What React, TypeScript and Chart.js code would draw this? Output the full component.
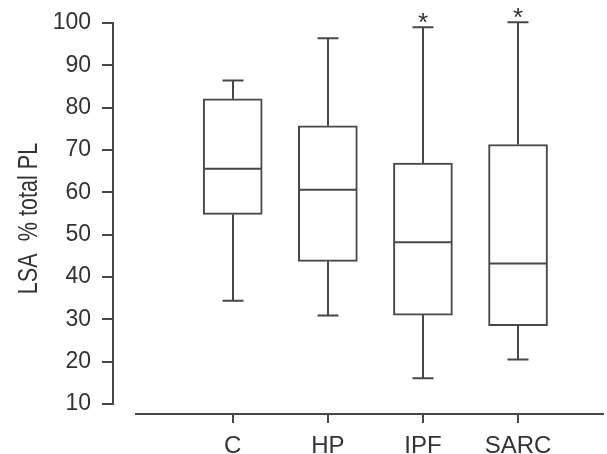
import { useEffect, useRef } from "react";
import { Chart, registerables } from "chart.js";

Chart.register(...registerables);

// ---- data ----
const categories = ["C", "HP", "IPF", "SARC"];
const whiskerLow = [34.4, 30.9, 16.1, 20.5];
const quartile1 = [54.8, 43.7, 31.0, 28.5];
const medians = [65.6, 60.6, 48.2, 43.2];
const quartile3 = [82.1, 75.7, 66.9, 71.3];
const whiskerHigh = [86.4, 96.4, 99.0, 100.2];
const significant = [false, false, true, true];
const yTicks = [10, 20, 30, 40, 50, 60, 70, 80, 90, 100];
const yTitle = "LSA  % total PL";

const FONT = "'Liberation Sans', Arial, sans-serif";
const INK = "#474747";
const TEXT = "#333333";

const boxPlotPlugin = {
  id: "boxPlotExtras",
  afterDatasetsDraw(chart: any) {
    const { ctx, scales, chartArea } = chart;
    const xs = scales.x;
    const ys = scales.y;
    ctx.save();
    ctx.strokeStyle = INK;
    ctx.lineWidth = 2;
    ctx.lineCap = "butt";
    // axis lines
    const yTop = ys.getPixelForValue(yTicks[yTicks.length - 1]);
    const yBot = ys.getPixelForValue(yTicks[0]);
    ctx.beginPath();
    ctx.moveTo(chartArea.left, yTop - 1);
    ctx.lineTo(chartArea.left, yBot + 1);
    ctx.stroke();
    ctx.beginPath();
    ctx.moveTo(chartArea.left + 22, chartArea.bottom);
    ctx.lineTo(chartArea.right, chartArea.bottom);
    ctx.stroke();

    const capHalf = 10.5;
    const medHalf = 28;
    categories.forEach((_, i) => {
      const px = Math.round(xs.getPixelForValue(i));
      const pLow = ys.getPixelForValue(whiskerLow[i]);
      const pQ1 = ys.getPixelForValue(quartile1[i]);
      const pMed = ys.getPixelForValue(medians[i]);
      const pQ3 = ys.getPixelForValue(quartile3[i]);
      const pHigh = ys.getPixelForValue(whiskerHigh[i]);
      ctx.beginPath();
      ctx.moveTo(px, pQ3);
      ctx.lineTo(px, pHigh);
      ctx.moveTo(px - capHalf, pHigh);
      ctx.lineTo(px + capHalf, pHigh);
      ctx.moveTo(px, pQ1);
      ctx.lineTo(px, pLow);
      ctx.moveTo(px - capHalf, pLow);
      ctx.lineTo(px + capHalf, pLow);
      ctx.moveTo(px - medHalf, pMed);
      ctx.lineTo(px + medHalf, pMed);
      ctx.stroke();
      if (significant[i]) {
        ctx.fillStyle = TEXT;
        ctx.font = `26px ${FONT}`;
        ctx.textAlign = "center";
        ctx.textBaseline = "alphabetic";
        ctx.fillText("*", px, pHigh + 4);
      }
    });

    // condensed y-axis title
    ctx.save();
    ctx.translate(37, (chartArea.top + chartArea.bottom) / 2);
    ctx.rotate(-Math.PI / 2);
    ctx.scale(0.8, 1);
    ctx.fillStyle = TEXT;
    ctx.font = `27px ${FONT}`;
    ctx.textAlign = "center";
    ctx.textBaseline = "alphabetic";
    ctx.fillText(yTitle, 0, 0);
    ctx.restore();

    ctx.restore();
  },
};

export default function App() {
  const ref = useRef<HTMLCanvasElement | null>(null);

  useEffect(() => {
    if (!ref.current) return;
    const chart = new Chart(ref.current, {
      type: "bar",
      data: {
        datasets: [
          {
            data: categories.map((_, i) => ({ x: i, y: [quartile1[i], quartile3[i]] })) as any,
            backgroundColor: "#ffffff",
            borderColor: INK,
            borderWidth: 2,
            borderSkipped: false,
            barThickness: 59,
          },
        ],
      },
      options: {
        responsive: false,
        animation: false,
        devicePixelRatio: 1,
        layout: { padding: { top: 23, right: 3, left: 0, bottom: 0 } },
        plugins: { legend: { display: false }, tooltip: { enabled: false } },
        scales: {
          x: {
            type: "linear",
            offset: false,
            min: -1.259,
            max: 3.904,
            afterBuildTicks: (s: any) => {
              s.ticks = categories.map((_, i) => ({ value: i }));
            },
            afterFit: (s: any) => {
              s.height = 40;
              s.paddingLeft = 0;
              s.paddingRight = 0;
            },
            border: { display: false },
            grid: {
              offset: false,
              drawOnChartArea: false,
              drawTicks: true,
              tickLength: 9,
              color: INK,
              lineWidth: 2,
            },
            ticks: {
              padding: 9,
              color: TEXT,
              font: { family: FONT, size: 24 },
              callback: (v: any) => categories[v as number] ?? "",
              maxRotation: 0,
              autoSkip: false,
            },
          },
          y: {
            min: 7.64,
            max: 100,
            afterBuildTicks: (s: any) => {
              s.ticks = yTicks.map((v) => ({ value: v }));
            },
            afterFit: (s: any) => {
              s.width = 113;
              s.paddingTop = 0;
              s.paddingBottom = 0;
            },
            border: { display: false },
            grid: {
              drawOnChartArea: false,
              drawTicks: true,
              tickLength: 11,
              color: INK,
              lineWidth: 2,
            },
            ticks: {
              padding: 11,
              color: TEXT,
              font: { family: FONT, size: 23 },
              autoSkip: false,
            },
            title: { display: false },
          },
        },
      },
      plugins: [boxPlotPlugin],
    });
    return () => chart.destroy();
  }, []);

  return (
    <div style={{ position: "fixed", left: 0, top: 0, width: 607, height: 454, background: "#fff" }}>
      <canvas ref={ref} width={607} height={454} style={{ width: 607, height: 454 }} />
    </div>
  );
}
